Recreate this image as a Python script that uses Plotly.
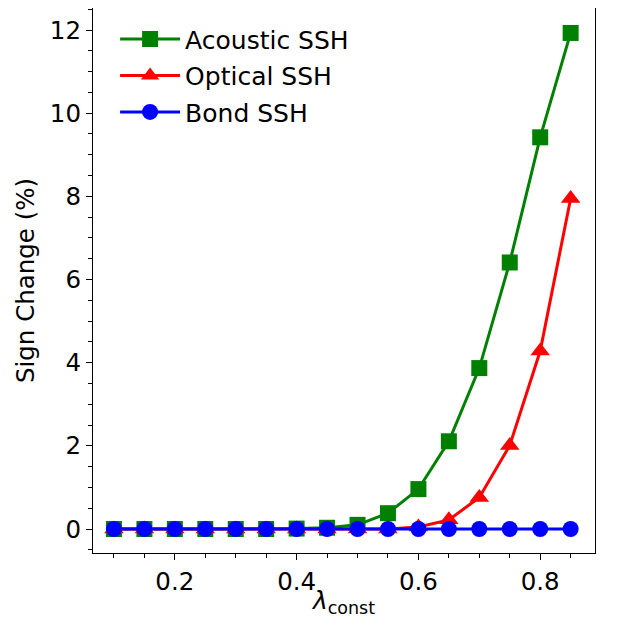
import plotly.graph_objects as go

lam = [0.10, 0.15, 0.20, 0.25, 0.30, 0.35, 0.40, 0.45, 0.50, 0.55, 0.60, 0.65, 0.70, 0.75, 0.80, 0.85]
acoustic = [0.0, 0.0, 0.0, 0.0, 0.0, 0.0, 0.01, 0.03, 0.10, 0.38, 0.96, 2.11, 3.87, 6.41, 9.42, 11.93]
acoustic_err = [0.0, 0.0, 0.0, 0.0, 0.0, 0.0, 0.005, 0.01, 0.01, 0.02, 0.02, 0.03, 0.03, 0.04, 0.04, 0.05]
optical = [0.0, 0.0, 0.0, 0.0, 0.0, 0.0, 0.0, 0.0, 0.0, 0.0, 0.05, 0.22, 0.76, 2.01, 4.28, 7.95]
optical_err = [0.0, 0.0, 0.0, 0.0, 0.0, 0.0, 0.0, 0.0, 0.0, 0.0, 0.01, 0.01, 0.02, 0.03, 0.03, 0.04]
bond = [0.0] * 16
bond_err = [0.0] * 16

series = [
    ("Acoustic SSH", acoustic, acoustic_err, "green", "square", 16),
    ("Optical SSH", optical, optical_err, "red", "triangle-up", 17),
    ("Bond SSH", bond, bond_err, "blue", "circle", 16),
]

fig = go.Figure()
for name, y, e, c, sym, sz in series:
    fig.add_trace(go.Scatter(
        x=lam, y=y, name=name, mode="lines+markers", legendgroup=name,
        line=dict(color=c, width=3),
        marker=dict(symbol=sym, size=sz, color=c, line=dict(width=0)),
        error_y=dict(type="data", array=e, visible=True, color=c, thickness=2, width=4),
    ))

font = dict(family="DejaVu Sans", size=25, color="black")
axis_common = dict(
    showgrid=False, zeroline=False, showline=True, linecolor="black", linewidth=1.2,
    mirror=True, ticks="outside", ticklen=6, tickwidth=1.2, tickcolor="black",
    tickfont=dict(family="DejaVu Sans", size=24.5, color="black"),
)
fig.update_xaxes(
    range=[0.0656, 0.890], tickvals=[0.2, 0.4, 0.6, 0.8], ticktext=["0.2", "0.4", "0.6", "0.8"],
    minor=dict(tickvals=[0.1, 0.15, 0.25, 0.3, 0.35, 0.45, 0.5, 0.55, 0.65, 0.7, 0.75, 0.85],
               ticks="outside", ticklen=3.5, tickwidth=1, tickcolor="black"),
    title=dict(text="<i>λ</i><sub>const</sub>", font=dict(family="DejaVu Sans", size=25), standoff=4),
    automargin=True,
    **axis_common,
)
fig.update_yaxes(
    range=[-0.577, 12.53], tickvals=[0, 2, 4, 6, 8, 10, 12],
    minor=dict(dtick=0.5, tick0=0, ticks="outside", ticklen=3.5, tickwidth=1, tickcolor="black"),
    title=dict(text="Sign Change (%)", font=dict(family="DejaVu Sans", size=24.5), standoff=8),
    automargin=False,
    **axis_common,
)
fig.update_layout(
    width=602, height=610,
    margin=dict(l=85, r=15, t=0, b=65),
    plot_bgcolor="white", paper_bgcolor="white",
    font=font,
    legend=dict(x=0.044, y=0.985, xanchor="left", yanchor="top", bgcolor="rgba(255,255,255,0)",
                font=dict(family="DejaVu Sans", size=25), itemwidth=60, tracegroupgap=1),
    showlegend=True,
)
fig.write_html("out.html")
